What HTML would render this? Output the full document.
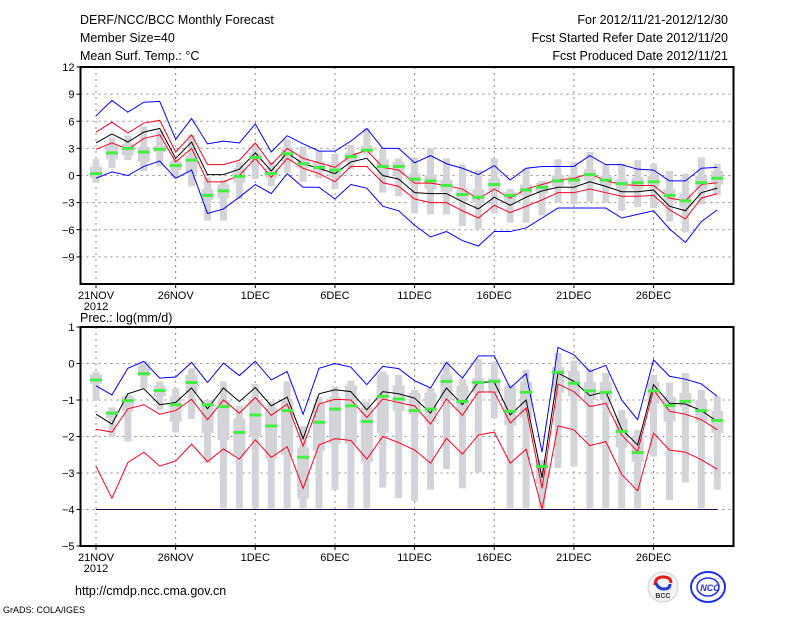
<!DOCTYPE html>
<html><head><meta charset="utf-8"><style>
body{margin:0;background:#fff;}
svg{display:block;font-family:"Liberation Sans",sans-serif;}
</style></head><body>
<svg id="chart" width="800" height="618" xmlns="http://www.w3.org/2000/svg">
<g font-size="12.5" fill="#000">
<text x="80" y="24">DERF/NCC/BCC Monthly Forecast</text>
<text x="80" y="42">Member Size=40</text>
<text x="80" y="60">Mean Surf. Temp.: °C</text>
<text x="728" y="24" text-anchor="end">For 2012/11/21-2012/12/30</text>
<text x="728" y="42" text-anchor="end">Fcst Started Refer Date 2012/11/20</text>
<text x="728" y="60" text-anchor="end">Fcst Produced Date 2012/11/21</text>
<text x="80" y="322">Prec.: log(mm/d)</text>
<text x="75" y="595">http://cmdp.ncc.cma.gov.cn</text>
<text x="3" y="613" font-size="9">GrADS: COLA/IGES</text>
</g>
<g>
<circle cx="663" cy="587" r="15" fill="#f4f4f4" stroke="#ccc"/>
<path d="M655,585 q0,-8 8,-8 q8,0 8,6" fill="none" stroke="#e02020" stroke-width="3"/>
<path d="M656,583 q2,6 8,6 q6,0 6,-5" fill="none" stroke="#2040d0" stroke-width="3"/>
<text x="663" y="598" font-size="7" text-anchor="middle" fill="#333" font-weight="bold">BCC</text>
</g>
<g>
<ellipse cx="708" cy="587" rx="17" ry="15" fill="none" stroke="#2030e0" stroke-width="2"/>
<ellipse cx="708" cy="587" rx="11" ry="9" fill="none" stroke="#2030e0" stroke-width="1.5"/>
<text x="710" y="591" font-size="9" text-anchor="middle" fill="#2030e0" font-weight="bold" font-style="italic">NCC</text>
</g>
</svg>
<script>
// ---- data ----
const days = ['21NOV','26NOV','1DEC','6DEC','11DEC','16DEC','21DEC','26DEC'];
const tTicks = [12,9,6,3,0,-3,-6,-9];
const pTicks = [1,0,-1,-2,-3,-4,-5];
const tBlueHi = [6.6,8.3,7.0,8.1,8.2,4.0,6.3,3.5,3.8,3.6,5.7,2.6,4.4,3.5,2.7,2.7,3.8,5.2,3.0,3.0,1.4,2.2,1.3,0.8,0.1,1.1,-0.5,0.8,1.0,1.0,1.0,2.2,1.2,1.2,0.7,0.6,-0.6,-0.6,0.8,0.9];
const tRedHi = [4.8,5.9,4.7,5.8,6.1,2.6,4.5,1.2,1.2,1.7,3.6,1.2,3.0,1.9,1.4,0.9,2.2,2.8,0.9,0.6,-0.85,-0.85,-1.1,-1.5,-2.6,-1.5,-2.5,-1.5,-1.0,-0.5,-0.3,0.2,-0.6,-1.0,-1.1,-1.1,-2.5,-2.8,-1.0,-0.8];
const tMean = [3.6,4.6,3.7,4.8,5.2,1.9,3.7,0.1,0.1,0.7,2.5,0.5,2.5,1.3,0.8,0.2,1.5,1.9,0.0,-0.4,-1.9,-2.0,-2.0,-2.9,-3.7,-2.4,-3.3,-2.4,-1.7,-1.3,-1.3,-0.7,-1.2,-1.8,-1.8,-1.6,-3.4,-3.9,-1.9,-1.4];
const tRedLo = [2.9,3.6,2.9,4.1,4.5,1.5,3.0,-0.7,-0.7,0.0,1.9,-0.2,1.9,0.8,0.2,-0.7,1.0,1.0,-0.8,-1.2,-2.6,-3.0,-3.0,-3.9,-4.7,-3.3,-4.1,-3.4,-2.7,-1.9,-1.9,-1.5,-1.9,-2.3,-2.3,-2.2,-3.8,-4.8,-2.5,-2.0];
const tBlueLo = [-0.3,0.4,0.0,1.0,1.6,-0.3,0.6,-4.2,-3.7,-2.4,-1.0,-2.0,0.2,-1.3,-1.3,-2.6,-1.0,-1.4,-3.4,-3.9,-5.5,-6.8,-6.2,-7.2,-7.8,-6.2,-6.2,-5.8,-4.7,-3.6,-3.6,-3.6,-3.6,-4.7,-4.3,-3.9,-5.9,-7.4,-5.1,-3.8];
const tMax = [1.8,4.2,4.4,5.4,4.9,1.8,4.5,-0.2,-0.5,1.5,3.5,1.5,4.0,3.2,2.7,2.4,3.4,5.2,2.9,1.9,2.0,3.0,1.9,1.2,0.6,1.9,-1.5,0.8,-0.6,1.8,1.5,2.6,1.2,1.3,1.7,1.3,0.5,0.2,2.0,1.3];
const tMin = [-0.8,0.8,1.7,0.5,1.0,-0.3,-1.2,-5.0,-5.0,-2.6,-0.4,-1.2,0.3,-0.7,-0.3,-1.5,0.7,2.3,-1.9,-2.3,-4.2,-4.3,-4.3,-5.6,-5.9,-4.2,-5.2,-5.2,-4.4,-3.0,-3.2,-2.9,-3.0,-3.9,-3.5,-3.6,-5.1,-6.3,-3.2,-2.2];
const tQ3 = [1.0,3.3,3.5,3.2,3.3,1.6,2.2,-1.5,-1.0,0.8,2.5,0.8,3.0,2.0,1.5,1.2,2.5,3.3,1.8,1.5,0.2,0.0,-0.5,-1.5,-1.5,-0.3,-1.8,-1.0,-0.8,0.0,0.0,0.7,0.0,-0.4,-0.2,0.0,-1.5,-2.0,0.0,0.5];
const tQ1 = [-0.3,1.8,2.2,1.5,2.6,0.6,0.2,-2.7,-2.5,-0.8,1.5,-0.3,1.5,0.8,0.4,-0.2,1.5,2.5,0.0,0.0,-1.0,-1.5,-1.8,-2.8,-3.0,-1.7,-3.0,-2.2,-2.0,-1.2,-1.0,-0.5,-1.2,-1.5,-1.5,-1.2,-2.8,-3.5,-1.5,-1.0];
const tMed = [0.2,2.5,3.0,2.6,2.9,1.1,1.7,-2.2,-1.7,-0.1,2.0,0.2,2.4,1.3,0.9,0.6,2.1,2.8,1.0,1.0,-0.4,-0.6,-1.1,-2.1,-2.4,-1.0,-2.2,-1.6,-1.3,-0.6,-0.5,0.1,-0.5,-0.9,-0.8,-0.7,-2.2,-2.8,-0.8,-0.3];

const pBlueHi = [-0.61,-0.86,-0.13,0.06,-0.4,-0.37,0.03,-0.52,0.01,-0.33,0.06,-0.45,-0.22,-1.39,-0.13,0.0,-0.1,-0.58,-0.08,-0.14,-0.47,-0.67,0.03,-0.4,0.21,0.21,-0.67,-0.28,-2.43,0.44,0.24,-0.22,-0.05,-1.0,-1.54,0.1,-0.35,-0.43,-0.56,-0.9];
const pMean = [-1.39,-1.66,-0.83,-0.69,-1.13,-1.07,-0.67,-1.24,-0.67,-1.04,-0.66,-1.16,-0.92,-2.06,-0.83,-0.72,-0.77,-1.27,-0.77,-0.83,-0.95,-1.36,-0.67,-1.13,-0.51,-0.51,-1.41,-1.0,-3.13,-0.26,-0.49,-0.88,-0.77,-1.8,-2.23,-0.58,-1.09,-1.11,-1.29,-1.59];
const pRedHi = [-1.8,-1.88,-1.24,-1.13,-1.39,-1.29,-0.98,-1.54,-1.0,-1.36,-0.93,-1.42,-1.11,-2.26,-1.11,-0.98,-1.0,-1.48,-0.97,-1.07,-1.16,-1.66,-0.97,-1.42,-0.78,-0.78,-1.63,-1.22,-3.42,-0.56,-0.77,-1.18,-1.09,-1.96,-2.41,-0.72,-1.31,-1.39,-1.54,-1.82];
const pRedLo = [-2.82,-3.69,-2.71,-2.43,-2.81,-2.67,-2.21,-2.69,-2.34,-2.62,-2.09,-2.57,-2.28,-3.42,-2.23,-2.06,-2.11,-2.62,-2.0,-2.17,-2.37,-2.73,-2.05,-2.48,-1.96,-1.88,-2.73,-2.35,-3.99,-1.71,-1.82,-2.25,-2.14,-3.04,-3.49,-1.91,-2.37,-2.43,-2.64,-2.9];
const pBlueLo = [-4,-4,-4,-4,-4,-4,-4,-4,-4,-4,-4,-4,-4,-4,-4,-4,-4,-4,-4,-4,-4,-4,-4,-4,-4,-4,-4,-4,-4,-4,-4,-4,-4,-4,-4,-4,-4,-4,-4,-4];
const pMax = [-0.22,-1.2,-0.86,0.06,-0.49,-0.67,-0.13,-1.09,-0.49,-1.16,-0.56,-1.04,-0.49,-1.71,-0.92,-0.63,-0.47,-1.04,-0.22,-0.31,-0.72,-0.67,0.06,-0.42,0.12,0.06,-0.58,-0.17,-2.64,0.29,0.08,-0.15,-0.26,-1.27,-1.82,-0.31,-0.52,-0.26,-0.72,-0.9];
const pMin = [-1.0,-2.02,-2.14,-0.67,-1.27,-1.89,-1.52,-2.73,-3.97,-3.97,-3.97,-3.97,-3.97,-3.97,-3.97,-3.46,-3.97,-3.97,-3.4,-3.69,-3.77,-3.46,-2.89,-3.42,-2.98,-1.5,-3.97,-3.97,-3.97,-2.87,-2.82,-3.97,-3.97,-3.97,-3.97,-2.55,-3.74,-3.26,-3.97,-3.46];
const pQ3 = [-0.3,-1.3,-0.9,0.0,-0.6,-0.9,-0.3,-1.0,-1.0,-1.5,-1.0,-1.2,-1.0,-2.3,-1.1,-0.9,-0.6,-1.2,-0.3,-0.6,-0.8,-0.8,-0.3,-0.6,-0.4,-0.4,-0.6,-0.5,-2.7,-0.1,-0.2,-0.5,-0.5,-1.5,-2.0,-0.5,-0.9,-0.8,-1.0,-1.3];
const pQ1 = [-0.55,-1.5,-1.3,-0.35,-0.9,-1.6,-0.8,-1.9,-2.1,-2.5,-2.0,-2.6,-2.5,-3.7,-2.4,-2.2,-2.2,-2.7,-1.9,-1.3,-1.4,-1.6,-1.0,-1.3,-0.8,-0.8,-1.7,-1.5,-3.3,-0.8,-0.9,-1.0,-1.0,-2.3,-2.7,-1.1,-1.6,-1.2,-1.6,-1.9];
const pMed = [-0.45,-1.36,-1.02,-0.28,-0.74,-1.13,-0.52,-1.13,-1.18,-1.89,-1.41,-1.71,-1.29,-2.57,-1.61,-1.25,-1.16,-1.59,-0.9,-0.97,-1.29,-1.25,-0.49,-1.04,-0.52,-0.49,-1.31,-0.79,-2.82,-0.24,-0.54,-0.75,-0.79,-1.86,-2.44,-0.75,-1.15,-1.04,-1.29,-1.56];

// ---- drawing ----
const svg = document.getElementById('chart');
const NS = 'http://www.w3.org/2000/svg';
const X0 = 80.5, X1 = 733.5;
const xDay = i => 96 + i * 15.93;
function mk(tag, attrs, parent) {
  const e = document.createElementNS(NS, tag);
  for (const k in attrs) e.setAttribute(k, attrs[k]);
  (parent || svg).appendChild(e);
  return e;
}
function panel(name, top, bot, vmax, vmin, ticks, dsets) {
  const y = v => top + (vmax - v) / (vmax - vmin) * (bot - top);
  const g = mk('g', {});
  
  
  ticks.forEach(t => {
    if (t === vmax || t === vmin) return;
    const l = mk('line', {x1: X0, x2: X1, y1: y(t), y2: y(t), stroke: '#888', 'stroke-dasharray': '2,4'}, g);
    
    
  });
  days.forEach((d, k) => {
    const x = xDay(k * 5);
    const l = mk('line', {x1: x, x2: x, y1: top, y2: bot, stroke: '#888', 'stroke-dasharray': '2,4'}, g);
    
    
  });
  for (let i = 0; i < 40; i++) {
    const x = xDay(i);
    const w = mk('rect', {x: x - 3.5, y: y(dsets.max[i]), width: 7, height: y(dsets.min[i]) - y(dsets.max[i]), fill: '#d3d4d8'}, g);
    
    
    const b = mk('rect', {x: x - 6, y: y(dsets.q3[i]), width: 12, height: Math.max(1, y(dsets.q1[i]) - y(dsets.q3[i])), fill: '#d3d4d8'}, g);
    
    
  }
  const lines = [[dsets.blueHi,'#0000ff','upper-bound-line'],[dsets.blueLo,dsets.loColor,'lower-bound-line'],[dsets.redHi,'#ff0020','upper-spread-line'],[dsets.redLo,'#ff0020','lower-spread-line'],[dsets.mean,'#000','ensemble-mean-line']];
  lines.forEach(([arr, c, n]) => {
    const p = mk('polyline', {points: arr.map((v, i) => xDay(i) + ',' + y(v)).join(' '), fill: 'none', stroke: c, 'stroke-width': 1}, g);
    
    
  });
  for (let i = 0; i < 40; i++) {
    const m = mk('rect', {x: xDay(i) - 6, y: y(dsets.med[i]) - 1.5, width: 12, height: 3, fill: '#44ee44'}, g);
    
    
  }
  const f = mk('rect', {x: X0, y: top, width: X1 - X0, height: bot - top, fill: 'none', stroke: '#000', 'stroke-width': 2}, g);
  
  
  ticks.forEach(t => {
    const tk = mk('line', {x1: X0 - 4, x2: X0, y1: y(t), y2: y(t), stroke: '#000'}, g);
    
    
    const tx = mk('text', {x: X0 - 6, y: y(t) + 4, 'text-anchor': 'end', 'font-size': 11}, g);
    tx.textContent = t < 0 ? '\u2212' + (-t) : String(t);
    
    
  });
  days.forEach((d, k) => {
    const x = xDay(k * 5);
    const tk = mk('line', {x1: x, x2: x, y1: bot, y2: bot + 4, stroke: '#000'}, g);
    
    
    const tx = mk('text', {x: x, y: bot + 15, 'text-anchor': 'middle', 'font-size': 11}, g);
    tx.textContent = d;
    
    
  });
  const yr = mk('text', {x: xDay(0), y: bot + 26, 'text-anchor': 'middle', 'font-size': 11}, g);
  yr.textContent = '2012';
  
  
}
panel('temperature-panel', 67, 284, 12, -12, tTicks, {blueHi: tBlueHi, blueLo: tBlueLo, loColor: '#0000ff', redHi: tRedHi, redLo: tRedLo, mean: tMean, max: tMax, min: tMin, q3: tQ3, q1: tQ1, med: tMed});
panel('precipitation-panel', 327, 546, 1, -5, pTicks, {blueHi: pBlueHi, blueLo: pBlueLo, loColor: '#101050', redHi: pRedHi, redLo: pRedLo, mean: pMean, max: pMax, min: pMin, q3: pQ3, q1: pQ1, med: pMed});
</script>
</body></html>
